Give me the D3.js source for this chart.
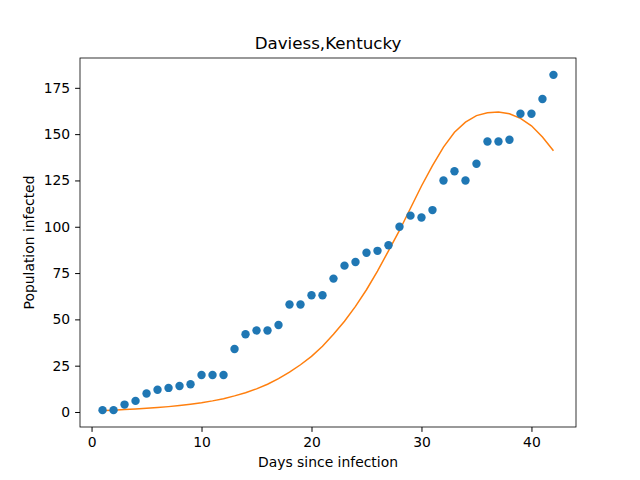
<!DOCTYPE html>
<html><head><meta charset="utf-8">
<script src="https://cdn.jsdelivr.net/npm/d3@7"></script>
<style>body{margin:0;background:#fff;font-family:"DejaVu Sans",sans-serif;}</style>
</head><body><div id="chart"></div>
<script>
// observed cases per day
var days = d3.range(1, 43);
var infected = [1,1,4,6,10,12,13,14,15,20,20,20,34,42,44,44,47,58,58,63,63,72,79,81,86,87,90,100,106,105,109,125,130,125,134,146,146,147,161,161,169,182];
// model fit
var model = [0.8,1,1.3,1.6,2,2.4,2.9,3.5,4.2,5,6,7.2,8.7,10.4,12.5,15,18,21.5,25.5,30,35.5,42,49,57,66,76,87,98,110,122,133,143,151,156.5,160,161.5,162,161,158.5,154.5,148.5,141];
var xTicks = [0,10,20,30,40];
var yTicks = [0,25,50,75,100,125,150,175];

var W = 640, H = 480;
var m = {left: 80, right: 64, top: 58, bottom: 53};

var svg = d3.select('#chart').append('svg').attr('width', W).attr('height', H);

var x = d3.scaleLinear().domain([-1.05, 44.05]).range([m.left, W - m.right]);
var y = d3.scaleLinear().domain([-8.1, 191.1]).range([H - m.bottom, m.top]);

var g = svg.append('g');

g.append('path')
  .datum(days)
  .attr('fill', 'none')
  .attr('stroke', '#ff7f0e')
  .attr('stroke-width', 1.5)
  .attr('d', d3.line().x(function(d){ return x(d); }).y(function(d, i){ return y(model[i]); }));

g.selectAll('circle').data(days).enter().append('circle')
  .attr('cx', function(d){ return x(d); })
  .attr('cy', function(d, i){ return y(infected[i]); })
  .attr('r', 4.2)
  .attr('fill', '#1f77b4');

var xAxis = svg.append('g').attr('transform', 'translate(0,' + (H - m.bottom) + ')')
  .call(d3.axisBottom(x).tickValues(xTicks).tickSizeOuter(0).tickSize(4.9).tickPadding(4.9));
var yAxis = svg.append('g').attr('transform', 'translate(' + m.left + ',0)')
  .call(d3.axisLeft(y).tickValues(yTicks).tickSizeOuter(0).tickSize(4.9).tickPadding(4.9));
[xAxis, yAxis].forEach(function(a){
  a.selectAll('text').attr('font-size', 13.9).attr('font-family', 'DejaVu Sans').attr('fill', '#000');
  a.select('.domain').remove();
});

svg.append('rect')
  .attr('x', m.left).attr('y', m.top)
  .attr('width', W - m.left - m.right).attr('height', H - m.top - m.bottom)
  .attr('fill', 'none').attr('stroke', '#000').attr('stroke-width', 0.8);

svg.append('text').attr('x', (m.left + W - m.right) / 2).attr('y', 49)
  .attr('text-anchor', 'middle').attr('font-size', 16.7).text('Daviess,Kentucky');
svg.append('text').attr('x', (m.left + W - m.right) / 2).attr('y', 467)
  .attr('text-anchor', 'middle').attr('font-size', 13.9).text('Days since infection');
svg.append('text').attr('transform', 'translate(34,' + ((m.top + H - m.bottom) / 2) + ') rotate(-90)')
  .attr('text-anchor', 'middle').attr('font-size', 13.9).text('Population infected');
</script>
</body></html>
